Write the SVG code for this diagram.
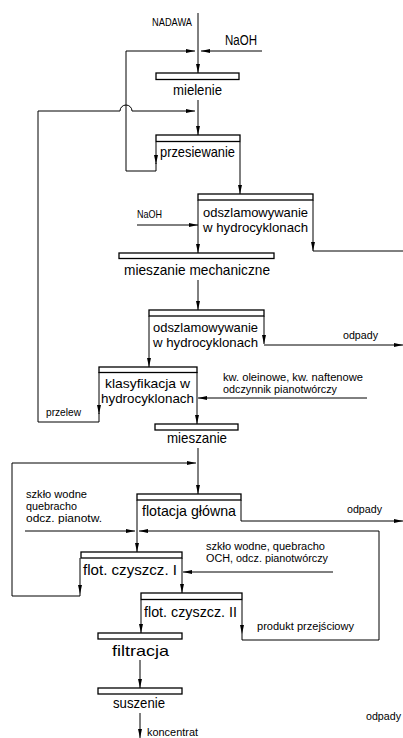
<svg xmlns="http://www.w3.org/2000/svg" width="403" height="738" viewBox="0 0 403 738">
<style>
.bar{fill:#fff;stroke:#000;stroke-width:1.3}
.ln{fill:none;stroke:#000;stroke-width:1}
.a{marker-end:url(#ar)}
.t{font-family:"Liberation Sans",Arial,sans-serif;font-size:15px;fill:#000}
.t2{font-family:"Liberation Sans",Arial,sans-serif;font-size:13px;fill:#000}
.s{font-family:"Liberation Sans",Arial,sans-serif;font-size:11px;fill:#000}
.s2{font-family:"Liberation Sans",Arial,sans-serif;font-size:10px;fill:#000}
</style>
<defs>
<marker id="ar" viewBox="0 0 9 4" refX="9" refY="2" markerWidth="9" markerHeight="4" markerUnits="userSpaceOnUse" orient="auto">
<path d="M0,0 L9,2 L0,4 z" fill="#000"/>
</marker>
</defs>
<rect width="403" height="738" fill="#fff"/>
<g id="connectors">
<path class="ln a" d="M198,13 V73"/>
<path class="ln a" d="M262,51 H201"/>
<path class="ln a" d="M156,142 V164"/>
<path class="ln a" d="M156,163 V171 H126 V51 H195"/>
<path class="ln a" d="M198,100 V135"/>
<path class="ln a" d="M99,372 V414"/>
<path class="ln a" d="M99,413 V422 H38 V111 H120 A6,6 0 0 1 132,111 H195"/>
<path class="ln a" d="M240,142 V194"/>
<path class="ln a" d="M198,200 V253"/>
<path class="ln a" d="M313,200 V251"/>
<path class="ln" d="M313,251 H403"/>
<path class="ln a" d="M137,225 H198"/>
<path class="ln a" d="M198,280 V310"/>
<path class="ln a" d="M264,316 V344"/>
<path class="ln a" d="M264,345 H403"/>
<path class="ln a" d="M149,316 V367"/>
<path class="ln a" d="M197,372 V424"/>
<path class="ln a" d="M367,398 H198"/>
<path class="ln a" d="M198,448 V494"/>
<path class="ln a" d="M80,558 V594"/>
<path class="ln a" d="M80,594 V596 H12 V463 H196"/>
<path class="ln a" d="M241,500 V521 H403"/>
<path class="ln a" d="M137,500 V552"/>
<path class="ln a" d="M25,531 H135"/>
<path class="ln a" d="M242,600 V634"/>
<path class="ln a" d="M242,634 V640 H379 V531 H139"/>
<path class="ln a" d="M333,572 H183"/>
<path class="ln a" d="M182,558 V593"/>
<path class="ln a" d="M141,600 V633"/>
<path class="ln a" d="M140,660 V688"/>
<path class="ln a" d="M140,713 V738"/>
</g>
<g id="labels">
<text class="s" x="152" y="26" textLength="40" lengthAdjust="spacingAndGlyphs">NADAWA</text>
<text class="t" x="225" y="45" style="font-size:14px" textLength="32" lengthAdjust="spacingAndGlyphs">NaOH</text>
<text class="s" x="137" y="218" textLength="25" lengthAdjust="spacingAndGlyphs">NaOH</text>
<text class="s" x="343" y="339" textLength="35" lengthAdjust="spacingAndGlyphs">odpady</text>
<text class="s2" x="223" y="381" textLength="140" lengthAdjust="spacingAndGlyphs">kw. oleinowe, kw. naftenowe</text>
<text class="s2" x="223" y="393" textLength="114" lengthAdjust="spacingAndGlyphs">odczynnik pianotwórczy</text>
<text class="s" x="46" y="416" textLength="35" lengthAdjust="spacingAndGlyphs">przelew</text>
<text class="s" x="347" y="513" textLength="35" lengthAdjust="spacingAndGlyphs">odpady</text>
<text class="s2" x="26" y="498" textLength="61" lengthAdjust="spacingAndGlyphs">szkło wodne</text>
<text class="s2" x="26" y="510" textLength="51" lengthAdjust="spacingAndGlyphs">quebracho</text>
<text class="s2" x="26" y="522" textLength="76" lengthAdjust="spacingAndGlyphs">odcz. pianotw.</text>
<text class="s2" x="206" y="550" textLength="119" lengthAdjust="spacingAndGlyphs">szkło wodne, quebracho</text>
<text class="s2" x="206" y="562" textLength="122" lengthAdjust="spacingAndGlyphs">OCH, odcz. pianotwórczy</text>
<text class="s" x="257" y="630" textLength="97" lengthAdjust="spacingAndGlyphs">produkt przejściowy</text>
<text class="s2" x="147" y="736" textLength="51" lengthAdjust="spacingAndGlyphs">koncentrat</text>
<text class="s" x="366" y="720" textLength="35" lengthAdjust="spacingAndGlyphs">odpady</text>
</g>
<g id="mielenie">
<rect class="bar" x="156" y="73" width="83" height="6.5"/>
<text class="t" x="173" y="95" textLength="49" lengthAdjust="spacingAndGlyphs">mielenie</text>
</g>
<g id="przesiewanie">
<rect class="bar" x="156" y="135" width="84" height="6.5"/>
<text class="t" x="160" y="157" textLength="75" lengthAdjust="spacingAndGlyphs">przesiewanie</text>
</g>
<g id="odszlamowywanie1">
<rect class="bar" x="198" y="194" width="115" height="6"/>
<text class="t2" x="203" y="217" textLength="105" lengthAdjust="spacingAndGlyphs">odszlamowywanie</text>
<text class="t2" x="203" y="232" textLength="105" lengthAdjust="spacingAndGlyphs">w hydrocyklonach</text>
</g>
<g id="mieszanie-mechaniczne">
<rect class="bar" x="119" y="253" width="155" height="5.5"/>
<text class="t" x="124" y="275" textLength="146" lengthAdjust="spacingAndGlyphs">mieszanie mechaniczne</text>
</g>
<g id="odszlamowywanie2">
<rect class="bar" x="149" y="310" width="115" height="6"/>
<text class="t2" x="153" y="332" textLength="105" lengthAdjust="spacingAndGlyphs">odszlamowywanie</text>
<text class="t2" x="153" y="347" textLength="105" lengthAdjust="spacingAndGlyphs">w hydrocyklonach</text>
</g>
<g id="klasyfikacja">
<rect class="bar" x="99" y="367" width="98" height="5.5"/>
<text class="t2" x="105" y="388" textLength="85" lengthAdjust="spacingAndGlyphs">klasyfikacja w</text>
<text class="t2" x="101" y="403" textLength="93" lengthAdjust="spacingAndGlyphs">hydrocyklonach</text>
</g>
<g id="mieszanie">
<rect class="bar" x="155" y="424" width="83" height="6"/>
<text class="t" x="167" y="443" textLength="60" lengthAdjust="spacingAndGlyphs">mieszanie</text>
</g>
<g id="flotacja-glowna">
<rect class="bar" x="137" y="494" width="104" height="6"/>
<text class="t" x="142" y="516" textLength="94" lengthAdjust="spacingAndGlyphs">flotacja główna</text>
</g>
<g id="flot-czyszcz-1">
<rect class="bar" x="81" y="552" width="101" height="6"/>
<text class="t" x="83" y="575" textLength="94" lengthAdjust="spacingAndGlyphs">flot. czyszcz. I</text>
</g>
<g id="flot-czyszcz-2">
<rect class="bar" x="141" y="593" width="101" height="6.5"/>
<text class="t" x="144" y="617" textLength="93" lengthAdjust="spacingAndGlyphs">flot. czyszcz. II</text>
</g>
<g id="filtracja">
<rect class="bar" x="98" y="633" width="84" height="6"/>
<text class="t" x="112" y="656" textLength="57" lengthAdjust="spacingAndGlyphs">filtracja</text>
</g>
<g id="suszenie">
<rect class="bar" x="98" y="688" width="84" height="6"/>
<text class="t" x="113" y="708" textLength="52" lengthAdjust="spacingAndGlyphs">suszenie</text>
</g>
</svg>
